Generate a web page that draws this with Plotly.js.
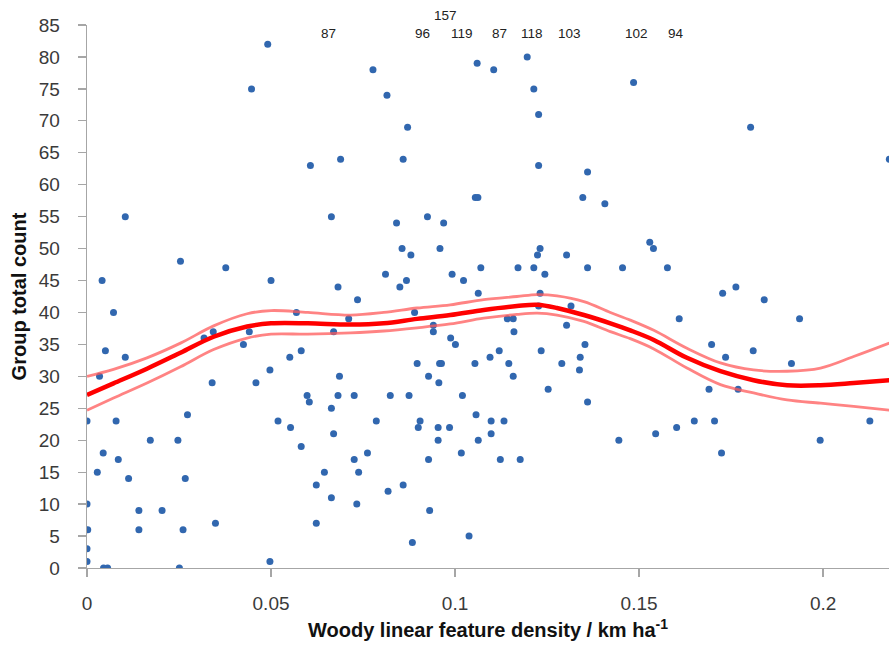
<!DOCTYPE html>
<html>
<head>
<meta charset="utf-8">
<script src="https://cdn.plot.ly/plotly-3.0.1.min.js"></script>
<style>html,body{margin:0;padding:0;background:#fff;}#chart{width:889px;height:650px;}</style>
</head>
<body>
<div id="chart"></div>
<script>
// Observed sites: woody linear feature density (km/ha) and group total count
const density = [
  0.0491,0.0447,0.0607,0.0689,0.0104,0.0664,0.0254,0.0377,0.0041,0.0500,0.0682,0.0735,
  0.0072,0.0569,0.0711,0.0318,0.0343,0.0441,0.0670,0.0050,0.0425,0.0582,0.0104,0.0551,
  0.0034,0.0497,0.0340,0.0459,0.0686,0.0598,0.0604,0.0682,0.0726,0.0664,0.0000,0.0079,
  0.0519,0.0273,0.0553,0.0670,0.0172,0.0247,0.0582,0.0044,0.0085,0.0726,0.0028,0.0645,
  0.0738,0.0113,0.0267,0.0623,0.0664,0.0733,0.0000,0.0141,0.0204,0.0349,0.0623,0.0002,
  0.0141,0.0261,0.0000,0.0000,0.0497,0.0045,0.0056,0.0251,
  0.0777,0.0815,0.0871,0.0859,0.1060,0.1105,0.1196,0.1214,0.1227,0.1227,0.1360,0.1347,
  0.1407,0.1055,0.1062,0.0841,0.0925,0.0969,0.0856,0.0880,0.0959,0.1231,0.1224,0.1303,
  0.1070,0.1171,0.1214,0.1360,0.1455,0.0811,0.0992,0.1244,0.0850,0.0868,0.1023,0.1063,
  0.1231,
  0.0890,0.0941,0.0941,0.1227,0.1315,0.1142,0.1158,0.1160,0.1303,0.0988,0.1001,0.1353,
  0.1120,0.1234,0.1095,0.1340,0.0897,0.0958,0.0963,0.1054,0.1146,0.1290,0.0928,0.1158,
  0.1338,0.0956,0.1253,0.0824,0.0875,0.1020,0.1360,0.0786,0.0905,0.0900,0.0954,0.0985,
  0.1057,0.1098,0.1133,0.1098,0.0954,0.1063,0.1445,0.0762,0.0928,0.1017,0.1123,0.1177,
  0.0859,0.0818,0.0931,0.1038,0.0884,
  0.1485,0.1803,0.2180,0.1529,0.1539,0.1577,0.1763,0.1727,0.1840,
  0.1609,0.1936,0.1697,0.1735,0.1810,0.1914,0.1690,0.1769,0.1545,0.1602,0.1650,0.1705,
  0.1724,0.1992,0.2127
];
const groupCount = [
  82,75,63,64,55,55,48,47,45,45,44,42,
  40,40,39,36,37,37,37,34,35,34,33,33,
  30,31,29,29,30,27,26,27,27,25,23,23,
  23,24,22,21,20,20,19,18,17,17,15,15,
  15,14,14,13,11,10,10,9,9,7,7,6,
  6,6,3,1,1,0,0,0,
  78,74,69,64,79,78,80,75,71,63,62,58,
  57,58,58,54,55,54,50,49,50,50,49,49,
  47,47,47,47,47,46,46,46,44,45,45,43,
  43,
  40,38,37,41,41,39,39,37,38,36,35,35,
  34,34,33,33,32,32,32,32,32,32,30,30,
  31,29,28,27,27,27,26,23,23,22,22,22,
  24,23,23,21,20,20,20,18,17,18,17,17,
  13,12,9,5,4,
  76,69,64,51,50,47,44,43,42,
  39,39,35,33,34,32,28,28,21,22,23,23,
  18,20,23
];

// Off-scale sites (count above axis maximum), labelled at the top
const offscaleDensity = [0.0657,0.0912,0.0974,0.1019,0.1120,0.1210,0.1311,0.1493,0.1599];
const offscaleCount   = [87,96,157,119,87,118,103,102,94];

// Smoothed fit and its confidence band
const fitX     = [0,0.0072,0.0163,0.0254,0.0344,0.0435,0.05,0.06,0.0716,0.0806,0.0897,0.0987,0.1078,0.1168,0.1223,0.1277,0.135,0.1422,0.1476,0.154,0.163,0.1721,0.1811,0.1902,0.1993,0.2083,0.218];
const fitMean  = [27.1,28.9,31.2,33.7,36.2,37.8,38.3,38.3,38.1,38.3,39.0,39.6,40.4,41.0,41.2,40.7,39.6,38.3,37.2,35.7,32.9,30.8,29.4,28.6,28.6,28.95,29.4];
const fitUpper = [30.0,31.1,32.9,35.2,37.9,39.8,40.3,40.0,39.6,40.0,40.7,41.2,42.0,42.5,42.8,42.6,41.7,40.0,38.8,37.2,34.4,32.1,31.0,30.8,31.3,33.1,35.2];
const fitLower = [24.7,26.6,28.95,31.5,34.2,36.0,36.6,36.6,36.8,37.1,37.6,38.2,39.1,39.7,39.9,39.6,38.6,37.0,35.9,34.3,31.3,28.7,27.4,26.3,25.8,25.3,24.7];

const xTickVals = [0,0.05,0.1,0.15,0.2];
const xTickText = ['0','0.05','0.1','0.15','0.2'];

const tickFont = {family:'Liberation Sans, Arial, sans-serif', size:19, color:'#3a3a3a'};
const titleFont = {family:'Liberation Sans, Arial, sans-serif', size:20, color:'#111'};

const traces = [
  {x:density, y:groupCount, type:'scatter', mode:'markers',
   marker:{size:7, color:'#3167AF'}, hoverinfo:'x+y'},
  {x:fitX, y:fitUpper, type:'scatter', mode:'lines',
   line:{color:'rgba(255,90,90,0.75)', width:2.8, shape:'spline'}},
  {x:fitX, y:fitLower, type:'scatter', mode:'lines',
   line:{color:'rgba(255,90,90,0.75)', width:2.8, shape:'spline'}},
  {x:fitX, y:fitMean, type:'scatter', mode:'lines',
   line:{color:'#ff0000', width:4.5, shape:'spline'}}
];

// stagger off-scale labels that would collide with the previous one
const annotations = [];
let lastRow0 = -1;
offscaleDensity.forEach((d,i)=>{
  let row = 0;
  if (lastRow0 >= 0 && d - lastRow0 < 0.008) row = 1; else lastRow0 = d;
  annotations.push({x:d, xref:'x', y:1, yref:'paper', yanchor:'middle',
    yshift: row ? 10 : -8, text:String(offscaleCount[i]), showarrow:false,
    font:{family:'Liberation Sans, Arial, sans-serif', size:13.5, color:'#222'}});
});

const layout = {
  width:889, height:650,
  margin:{l:87, r:0, t:25, b:82, pad:0},
  paper_bgcolor:'#fff', plot_bgcolor:'#fff',
  showlegend:false,
  xaxis:{range:[0,0.2179], tickvals:xTickVals, ticktext:xTickText,
    showgrid:false, zeroline:false, showline:true, linecolor:'#a6a6a6', linewidth:1.3,
    ticks:'outside', ticklen:8, tickcolor:'#a6a6a6', tickwidth:1.3,
    ticklabelstandoff:10, tickfont:tickFont,
    title:{text:'<b>Woody linear feature density / km ha<sup>-1</sup></b>', font:titleFont, standoff:10}},
  yaxis:{range:[0,85], dtick:5, tick0:0,
    showgrid:false, zeroline:false, showline:true, linecolor:'#a6a6a6', linewidth:1.3,
    ticks:'outside', ticklen:8, tickcolor:'#a6a6a6', tickwidth:1.3,
    ticklabelstandoff:14, tickfont:tickFont,
    title:{text:'<b>Group total count</b>', font:titleFont, standoff:6}},
  annotations:annotations
};

Plotly.newPlot('chart', traces, layout, {staticPlot:true, displayModeBar:false});
</script>
</body>
</html>
